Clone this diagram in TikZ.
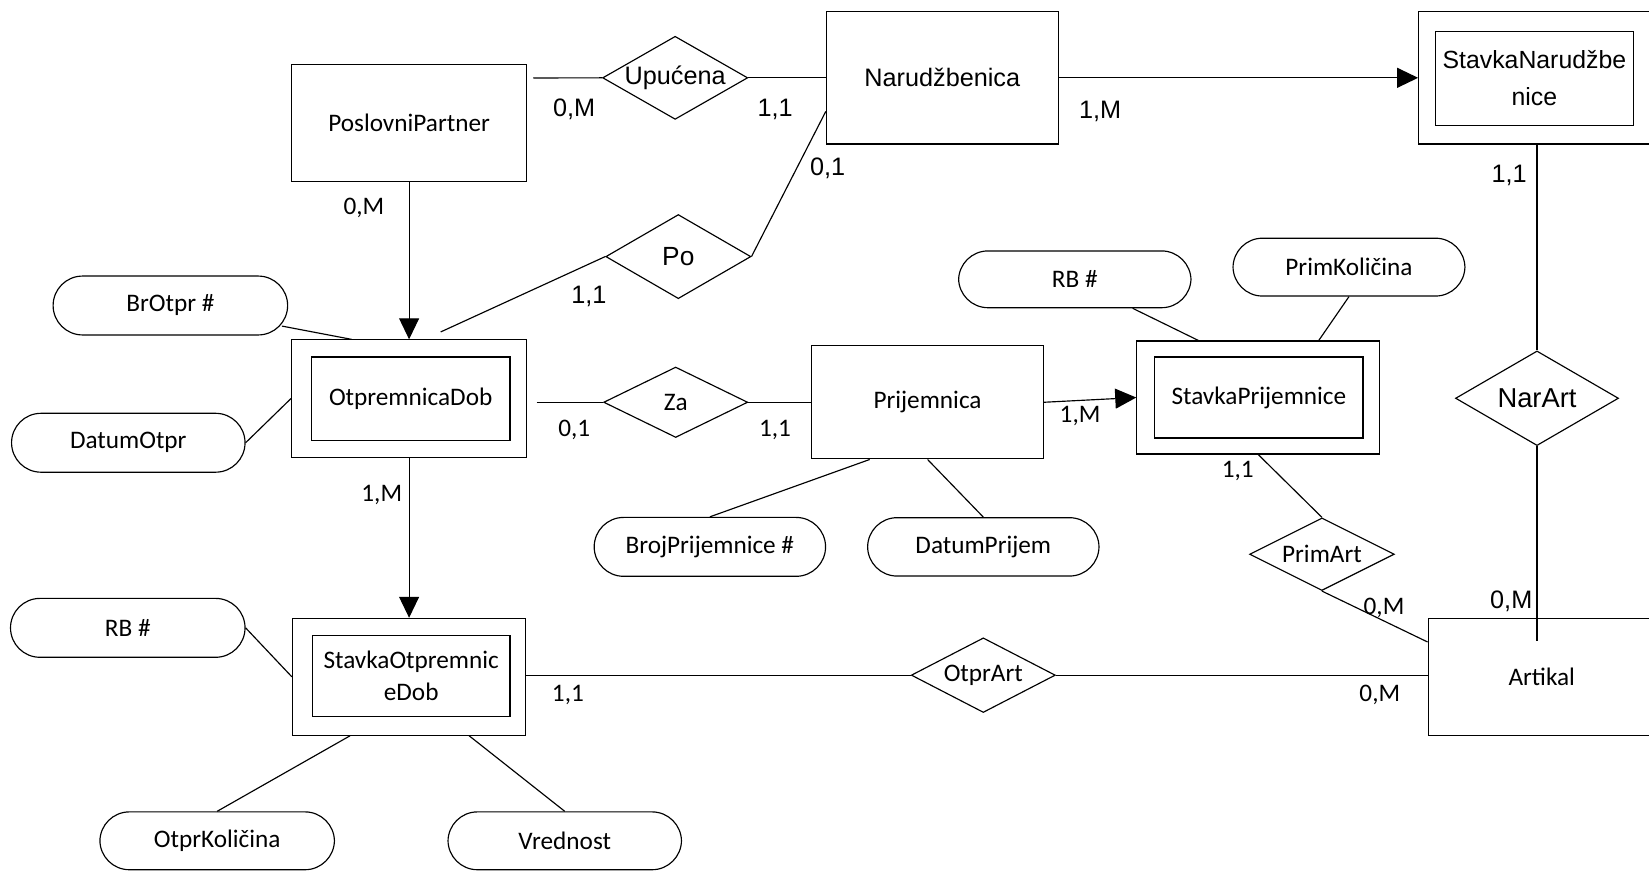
\documentclass[tikz,border=0pt]{standalone}
\usepackage{fontspec}
\setmainfont{Carlito}
\newfontfamily\arialf{Liberation Sans}
\usetikzlibrary{shapes.geometric,arrows.meta,calc}

\tikzset{
  base/.style={draw, line width=0.55pt, inner sep=0pt, align=center,
    font=\fontsize{12}{15}\selectfont},
  entity/.style={base, rectangle},
  rel/.style={base, diamond, shape aspect=2},
  attr/.style={base, rectangle, rounded corners=14pt},
  lbl/.style={inner sep=0pt, font=\fontsize{12}{14}\selectfont},
  albl/.style={inner sep=0pt, font=\arialf\fontsize{12}{14}\selectfont},
  conn/.style={line width=0.55pt},
  arr/.style={conn, -{Triangle[length=10pt,width=9.5pt]}},
}

\begin{document}
\begin{tikzpicture}[x=0.5pt,y=-0.5pt]
\useasboundingbox (0,0) rectangle (1568,829);

% ---- entity sets ----
\node[entity, minimum width=111.5pt, minimum height=55.8pt] (pp) at (389,117) {PoslovniPartner};
\node[entity, minimum width=110.25pt, minimum height=63pt, font=\arialf\fontsize{12}{14}\selectfont] (nar) at (896,74) {Narudžbenica};
\node[entity, minimum width=110.15pt, minimum height=53.85pt] (prij) at (882,382.5) {Prijemnica};
% the right border runs past the page edge
\node[entity, minimum width=108pt, minimum height=55.5pt] (art) at (1466,643.5) {Artikal};

% ---- weak entity sets (double boxes) ----
\node[entity, minimum width=112.5pt, minimum height=63pt] (sn) at (1461.5,74) {};
\node[entity, minimum width=94pt, minimum height=44.5pt, font=\arialf\fontsize{11.8}{17.5}\selectfont] (snIn) at (1459,74.5) {StavkaNarudžbe\\nice};

\node[entity, minimum width=111.8pt, minimum height=55.8pt] (otd) at (389,379) {};
\node[entity, minimum width=94.5pt, minimum height=39.5pt] (otdIn) at (390.5,379) {OtpremnicaDob};

\node[entity, minimum width=115.5pt, minimum height=53.75pt] (sp) at (1196.5,378) {};
\node[entity, minimum width=99pt, minimum height=38.5pt] (spIn) at (1197,378) {StavkaPrijemnice};

\node[entity, minimum width=111pt, minimum height=55.5pt] (sod) at (389,643.5) {};
\node[entity, minimum width=94pt, minimum height=38.5pt] (sodIn) at (391,642.5) {StavkaOtpremnic\\eDob};

% ---- relationships ----
\node[rel, shape aspect=1.75, minimum width=69pt, minimum height=39.5pt, font=\arialf\fontsize{12}{14}\selectfont] (upu) at (642,74) {Upućena};
\node[rel, shape aspect=1.72, minimum width=69pt, minimum height=40pt, font=\arialf\fontsize{12.5}{14}\selectfont] (po) at (645,244) {Po};
\node[rel, minimum width=68.5pt, minimum height=33.5pt] (za) at (642.5,382.5) {Za};
\node[rel, minimum width=68.75pt, minimum height=34.5pt] (primart) at (1257,527) {PrimArt};
\node[rel, shape aspect=1.72, minimum width=77.5pt, minimum height=45pt, font=\arialf\fontsize{13}{14}\selectfont] (narart) at (1461.5,378.7) {NarArt};
\node[rel, minimum width=68.5pt, minimum height=35.5pt] (otprart) at (935,642) {OtprArt};

% ---- attributes ----
\node[attr, minimum width=111.5pt, minimum height=28pt] (brotpr) at (162,290.5) {BrOtpr \#};
\node[attr, minimum width=111pt, minimum height=28pt] (datumotpr) at (122,421) {DatumOtpr};
\node[attr, minimum width=111.5pt, minimum height=28pt] (rb1) at (121.5,597) {RB \#};
\node[attr, minimum width=111.5pt, minimum height=27.5pt] (otprkol) at (206.5,799.5) {OtprKoličina};
\node[attr, minimum width=111pt, minimum height=27.5pt] (vred) at (537,799.5) {Vrednost};
\node[attr, minimum width=110.5pt, minimum height=27pt] (rb2) at (1022,265.6) {RB \#};
\node[attr, minimum width=110.25pt, minimum height=27.5pt] (pk) at (1282.7,254) {PrimKoličina};
\node[attr, minimum width=110pt, minimum height=28pt] (bp) at (675,520) {BrojPrijemnice \#};
\node[attr, minimum width=110pt, minimum height=27.75pt] (dp) at (935,520) {DatumPrijem};

% ---- connectors ----
\draw[conn] ($(pp.north east)+(6,13.5)$) -- (upu.west);
\draw[conn] (upu.east) -- (nar.west);
\draw[arr] (nar.east) -- (sn.west);
\draw[arr] (pp.south) -- (otd.north);
\draw[conn] ($(otd.north)+(30,-7)$) -- (po.west);
\draw[conn] (po.east) -- ($(nar.west)+(0,32)$);
\draw[conn] ($(otd.east|-za.west)+(9,0)$) -- (za.west);
\draw[conn] (za.east) -- (prij.west);
\draw[arr] (prij.east) -- (sp.west);
\draw[conn] ($(rb2.south)+(55,0)$) -- ($(sp.north west)+(59,0)$);
\draw[conn] (pk.south) -- ($(sp.north)+(57.5,0)$);
\draw[conn] ($(prij.south)+(-55,0)$) -- (bp.north);
\draw[conn] (prij.south) -- (dp.north);
\draw[conn] (sp.south) -- (primart.north);
\draw[conn] (primart.south) -- ($(art.north west)+(0,23)$);
\draw[conn] (sn.south -| narart.north) -- (narart.north);
\draw[conn] (narart.south) -- ($(narart.south|-art.north)+(0,22)$);
\draw[arr] (otd.south) -- (sod.north);
\draw[conn] (otprart.west -| sod.east) -- (otprart.west);
\draw[conn] (otprart.east) -- (otprart.east -| art.west);
\draw[conn] ($(brotpr.south east)+(-6,-9)$) -- ($(otd.north west)+(57.5,0)$);
\draw[conn] (datumotpr.east) -- (otd.west);
\draw[conn] (rb1.east) -- (sod.west);
\draw[conn] (otprkol.north) -- ($(sod.south)+(-56,0)$);
\draw[conn] (vred.north) -- ($(sod.south)+(57,0)$);

% ---- cardinalities ----
\node[albl] (c1) at (546,104) {0,M};
\node[albl] (c2) at (737,104) {1,1};
\node[albl] (c3) at (1046,106) {1,M};
\node[albl] (c4) at (787,160) {0,1};
\node[albl] (c5) at (560,282) {1,1};
\node[albl] (c6) at (1435,167) {1,1};
\node[albl] (c7) at (1437,572) {0,M};
\node[lbl] (c8) at (346,198) {0,M};
\node[lbl] (c9) at (546,409) {0,1};
\node[lbl] (c10) at (737,409) {1,1};
\node[lbl] (c11) at (363,471) {1,M};
\node[lbl] (c12) at (1027,396) {1,M};
\node[lbl] (c13) at (1177,448) {1,1};
\node[lbl] (c14) at (1316,578) {0,M};
\node[lbl] (c15) at (540,661) {1,1};
\node[lbl] (c16) at (1312,661) {0,M};
\end{tikzpicture}
\end{document}
